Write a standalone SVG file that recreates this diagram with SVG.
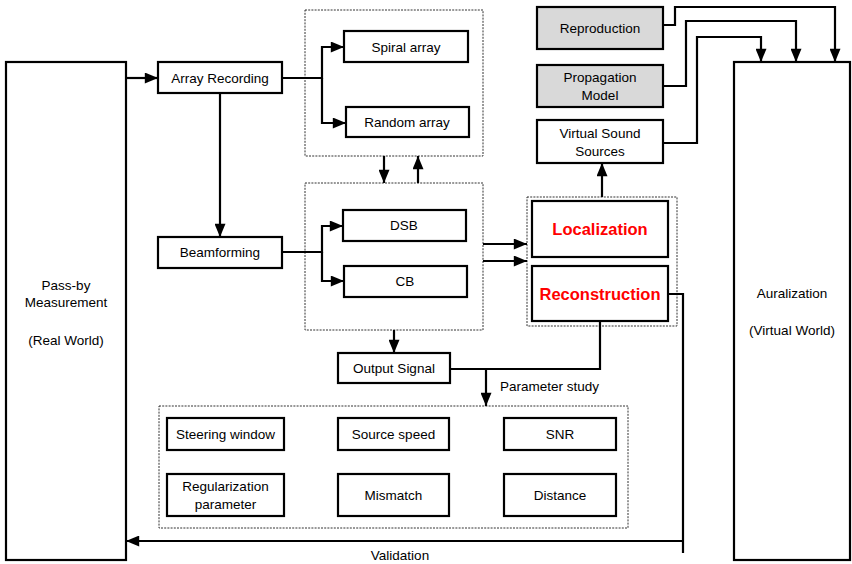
<svg xmlns="http://www.w3.org/2000/svg" width="852" height="564" viewBox="0 0 852 564">
<defs>
<marker id="a" viewBox="0 0 12 10" refX="12" refY="5" markerWidth="14" markerHeight="11" markerUnits="userSpaceOnUse" orient="auto">
<path d="M0,0 L12,5 L0,10 z" fill="#000"/>
</marker>
</defs>
<style>
.box{fill:#fff;stroke:#000;stroke-width:2.2}
.gray{fill:#d9d9d9;stroke:#000;stroke-width:2.2}
.dot{fill:none;stroke:#333;stroke-width:1;stroke-dasharray:2,1.2}
.t{font-family:"Liberation Sans",Arial,sans-serif;font-size:13.5px;fill:#000;text-anchor:middle;dominant-baseline:central}
.r{font-family:"Liberation Sans",Arial,sans-serif;font-size:16.5px;font-weight:bold;fill:#ff0000;text-anchor:middle;dominant-baseline:central}
.c{fill:none;stroke:#000;stroke-width:2.2}
</style>
<rect width="852" height="564" fill="#fff"/>

<g id="groups">
<rect class="dot" x="305" y="10" width="178" height="146"/>
<rect class="dot" x="305" y="183" width="178" height="147"/>
<rect class="dot" x="527" y="197" width="150" height="129"/>
<rect class="dot" x="159" y="406" width="469" height="122"/>
</g>

<g id="connectors">
<path class="c" d="M126,78 H158" marker-end="url(#a)"/>
<path class="c" d="M282,78 H322 V47 H344" marker-end="url(#a)"/>
<path class="c" d="M322,78 V123 H346" marker-end="url(#a)"/>
<path class="c" d="M220,93 V237" marker-end="url(#a)"/>
<path class="c" d="M282,252 H322 V226 H343" marker-end="url(#a)"/>
<path class="c" d="M322,252 V281 H344" marker-end="url(#a)"/>
<path class="c" d="M384,156 V183" marker-end="url(#a)"/>
<path class="c" d="M418,183 V156" marker-end="url(#a)"/>
<path class="c" d="M483,244 H527" marker-end="url(#a)"/>
<path class="c" d="M483,261 H527" marker-end="url(#a)"/>
<path class="c" d="M394,330 V353" marker-end="url(#a)"/>
<path class="c" d="M450,369 H600 V321"/>
<path class="c" d="M486,369 V406" marker-end="url(#a)"/>
<path class="c" d="M602,197 V163" marker-end="url(#a)"/>
<path class="c" d="M663,25 H675 V7 H835 V62" marker-end="url(#a)"/>
<path class="c" d="M663,86 H686 V21 H796 V62" marker-end="url(#a)"/>
<path class="c" d="M663,143 H697 V37 H761 V62" marker-end="url(#a)"/>
<path class="c" d="M668,294 H683 V553"/>
<path class="c" d="M683,541 H126" marker-end="url(#a)"/>
<text class="t" x="500" y="386" style="text-anchor:start">Parameter study</text>
<text class="t" x="400" y="555">Validation</text>
</g>

<g id="passby">
<rect class="box" x="6" y="62" width="120" height="498"/>
<text class="t" x="66" y="285">Pass-by</text>
<text class="t" x="66" y="302">Measurement</text>
<text class="t" x="66" y="340">(Real World)</text>
</g>

<g id="auralization">
<rect class="box" x="734" y="62" width="116" height="498"/>
<text class="t" x="792" y="293">Auralization</text>
<text class="t" x="792" y="330">(Virtual World)</text>
</g>

<g id="array-recording">
<rect class="box" x="158" y="62" width="124" height="31"/>
<text class="t" x="220" y="78">Array Recording</text>
</g>

<g id="spiral-array">
<rect class="box" x="344" y="31" width="124" height="31"/>
<text class="t" x="406" y="47">Spiral array</text>
</g>

<g id="random-array">
<rect class="box" x="346" y="107" width="123" height="30"/>
<text class="t" x="407" y="122">Random array</text>
</g>

<g id="beamforming">
<rect class="box" x="158" y="237" width="124" height="31"/>
<text class="t" x="220" y="252">Beamforming</text>
</g>

<g id="dsb">
<rect class="box" x="343" y="210" width="123" height="31"/>
<text class="t" x="404" y="225">DSB</text>
</g>

<g id="cb">
<rect class="box" x="344" y="266" width="123" height="31"/>
<text class="t" x="405" y="281">CB</text>
</g>

<g id="localization">
<rect class="box" x="532" y="201" width="136" height="56"/>
<text class="r" x="600" y="229">Localization</text>
</g>

<g id="reconstruction">
<rect class="box" x="532" y="266" width="136" height="55"/>
<text class="r" x="600" y="294">Reconstruction</text>
</g>

<g id="output-signal">
<rect class="box" x="338" y="353" width="112" height="30"/>
<text class="t" x="394" y="368">Output Signal</text>
</g>

<g id="reproduction">
<rect class="gray" x="537" y="7" width="126" height="42"/>
<text class="t" x="600" y="28">Reproduction</text>
</g>

<g id="propagation-model">
<rect class="gray" x="537" y="65" width="126" height="42"/>
<text class="t" x="600" y="77">Propagation</text>
<text class="t" x="600" y="95">Model</text>
</g>

<g id="virtual-sound-sources">
<rect class="box" x="537" y="120" width="126" height="43"/>
<text class="t" x="600" y="133">Virtual Sound</text>
<text class="t" x="600" y="151">Sources</text>
</g>

<g id="steering-window">
<rect class="box" x="167" y="418" width="117" height="32"/>
<text class="t" x="225.5" y="434">Steering window</text>
</g>
<g id="source-speed">
<rect class="box" x="338" y="418" width="111" height="32"/>
<text class="t" x="393.5" y="434">Source speed</text>
</g>
<g id="snr">
<rect class="box" x="504" y="418" width="112" height="32"/>
<text class="t" x="560" y="434">SNR</text>
</g>
<g id="regularization">
<rect class="box" x="167" y="474" width="117" height="42"/>
<text class="t" x="225.5" y="486">Regularization</text>
<text class="t" x="225.5" y="504">parameter</text>
</g>
<g id="mismatch">
<rect class="box" x="338" y="474" width="111" height="42"/>
<text class="t" x="393.5" y="495">Mismatch</text>
</g>
<g id="distance">
<rect class="box" x="504" y="474" width="112" height="42"/>
<text class="t" x="560" y="495">Distance</text>
</g>
</svg>
